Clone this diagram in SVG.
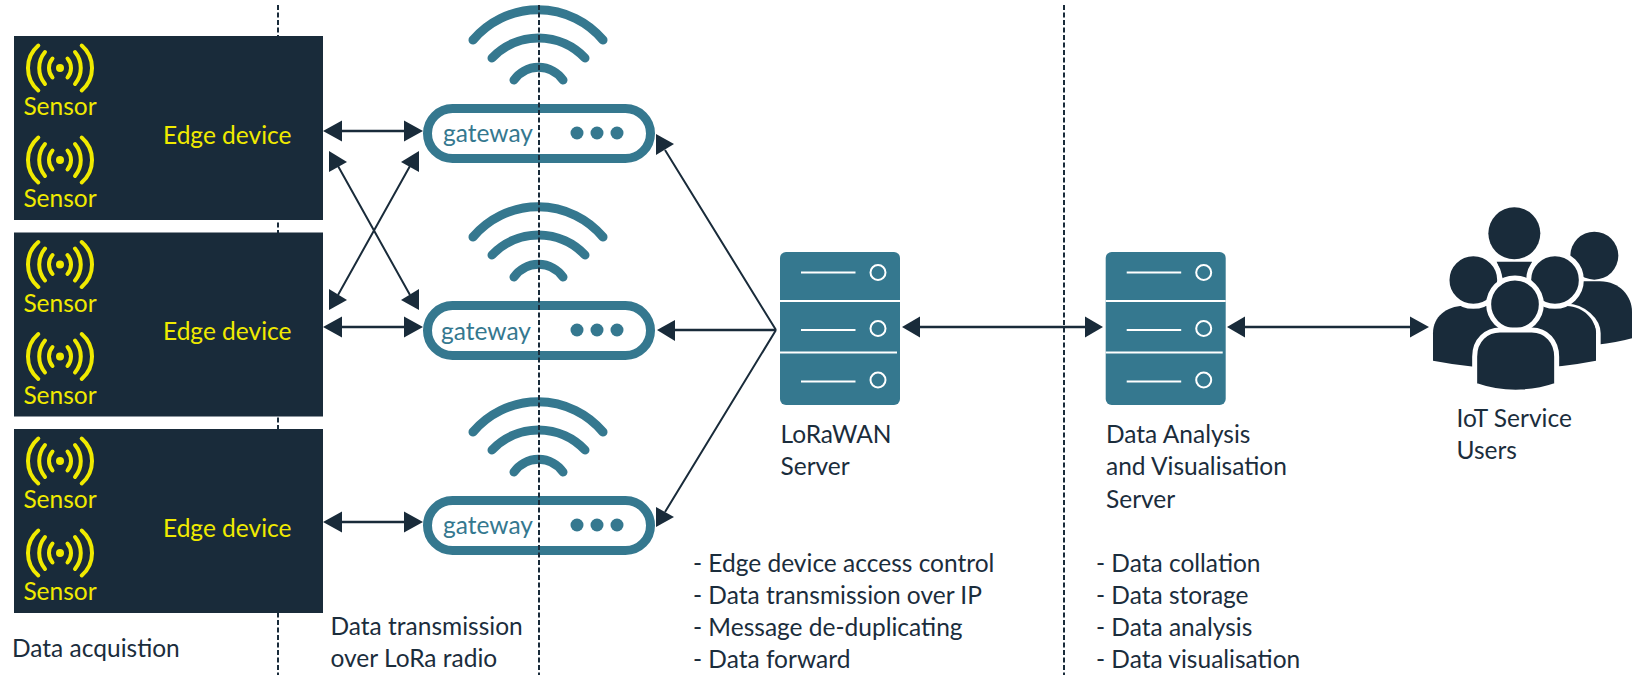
<svg xmlns="http://www.w3.org/2000/svg" xmlns:xlink="http://www.w3.org/1999/xlink" width="1632" height="675" viewBox="0 0 1632 675">
<style>
text{font-family:"Lato","Liberation Sans",sans-serif;font-size:24.5px;fill:#1b2d3c}
.y{fill:#f0ea00}
.g{fill:#35788f}
.box{fill:#192b3a}
.div{stroke:#192b3a;stroke-width:2;stroke-dasharray:5 2.5;fill:none}
.ln{stroke:#192b3a;stroke-width:2.5;fill:none}
.dg{stroke:#192b3a;stroke-width:2;fill:none}
.hd{fill:#192b3a}
.wf{stroke:#35788f;stroke-width:9;stroke-linecap:round;fill:none}
.gw{stroke:#35788f;stroke-width:9;fill:#fff}
.srv{fill:#35788f}
.wl{stroke:#fff;stroke-width:2;fill:none}
.sn{stroke:#f0ea00;stroke-width:4;stroke-linecap:round;fill:none}
.ps{fill:#192b3a;stroke:#fff;stroke-width:15}
.pn{fill:#192b3a}
</style>
<defs>
<g id="sensor">
<circle r="4" fill="#f0ea00"/>
<path class="sn" d="M-7.5-9.5A14.6 14.6 0 0 0-7.5 9.5M7.5-9.5A14.6 14.6 0 0 1 7.5 9.5M-15-16A25 25 0 0 0-15 16M15-16A25 25 0 0 1 15 16M-21.7-22.5A29.7 29.7 0 0 0-21.7 22.5M21.7-22.5A29.7 29.7 0 0 1 21.7 22.5"/>
</g>
<g id="edge">
<rect class="box" x="14" y="36" width="309" height="184"/>
<use xlink:href="#sensor" x="60" y="68"/>
<use xlink:href="#sensor" x="60" y="160"/>
<text class="y" x="60" y="115" text-anchor="middle">Sensor</text>
<text class="y" x="60" y="207" text-anchor="middle">Sensor</text>
<text class="y" x="163" y="143.500">Edge device</text>
</g>
<g id="gwbody">
<path class="wf" d="M473 40A85 85 0 0 1 603 40M492 58A64 64 0 0 1 585 58M514 80A30 30 0 0 1 563 80"/>
<rect class="gw" x="427.500" y="108.500" width="223" height="50" rx="25"/>
<circle class="g" cx="577" cy="133" r="6.500"/>
<circle class="g" cx="597" cy="133" r="6.500"/>
<circle class="g" cx="617" cy="133" r="6.500"/>
</g>
<g id="server">
<path class="srv" d="M6 0H114A6 6 0 0 1 120 6V147A6 6 0 0 1 114 153H6A6 6 0 0 1 0 147V6A6 6 0 0 1 6 0Z"/>
<path d="M0 49H120M0 100.500H117" stroke="#fff" stroke-width="2" fill="none"/>
<path class="wl" d="M21 20.500H75.500M21 78H75.500M21 129.500H75.500"/>
<circle class="wl" cx="98" cy="20.500" r="7.500"/>
<circle class="wl" cx="98" cy="76.500" r="7.500"/>
<circle class="wl" cx="98" cy="128" r="7.500"/>
</g>
</defs>

<g id="divider-left"><line class="div" x1="278" y1="5" x2="278" y2="675"/></g>

<g id="edge-1"><use xlink:href="#edge"/></g>
<g id="edge-2"><use xlink:href="#edge" y="196.500"/></g>
<g id="edge-3"><use xlink:href="#edge" y="393"/></g>

<g id="gateway-1"><use xlink:href="#gwbody"/><text class="g" x="443" y="141.500">gateway</text></g>
<g id="gateway-2"><use xlink:href="#gwbody" y="197"/><text class="g" x="441" y="339.500">gateway</text></g>
<g id="gateway-3"><use xlink:href="#gwbody" y="392"/><text class="g" x="443" y="533.500">gateway</text></g>

<g id="dividers">
<line class="div" x1="539" y1="5" x2="539" y2="675"/>
<line class="div" x1="1064" y1="5" x2="1064" y2="675"/>
</g>

<g id="connectors">
<path class="ln" d="M340 131H406M340 327H406M340 522H406M776 330H672M918 327H1087M1243 327H1413"/>
<path class="dg" d="M338 166L410 295M410 166L338 295M776 330L665 150M776 330L665 512"/>
<polygon class="hd" points="323,131 342,120.500 342,141.500"/>
<polygon class="hd" points="423,131 404,120.500 404,141.500"/>
<polygon class="hd" points="323,327 342,316.500 342,337.500"/>
<polygon class="hd" points="423,327 404,316.500 404,337.500"/>
<polygon class="hd" points="323,522 342,511.500 342,532.500"/>
<polygon class="hd" points="423,522 404,511.500 404,532.500"/>
<polygon class="hd" points="329,151 329,172 347,162"/>
<polygon class="hd" points="419,151 419,172 401,162"/>
<polygon class="hd" points="329,289 329,310 347,300"/>
<polygon class="hd" points="419,289 419,310 401,300"/>
<polygon class="hd" points="656,134 656,155 674,144"/>
<polygon class="hd" points="657,330 675,320 675,341"/>
<polygon class="hd" points="656,507 656,527 674,517"/>
<polygon class="hd" points="902,327 920,316.500 920,337.500"/>
<polygon class="hd" points="1103,327 1085,316.500 1085,337.500"/>
<polygon class="hd" points="1227,327 1245,316.500 1245,337.500"/>
<polygon class="hd" points="1429,327 1410,316.500 1410,337.500"/>
</g>

<g id="lorawan-server"><use xlink:href="#server" x="780" y="252"/>
<text x="780.500" y="443">LoRaWAN</text><text x="780.500" y="475">Server</text></g>
<g id="analysis-server"><use xlink:href="#server" x="1105.700" y="252"/>
<text x="1106" y="443">Data Analysis</text><text x="1106" y="475">and Visualisation</text><text x="1106" y="508">Server</text></g>

<g id="users">
<g transform="translate(1400 190) scale(.33333)">
<circle class="pn" cx="343" cy="130" r="78"/>
<polygon class="pn" points="290,215 396,215 380,270 310,270"/>
<circle class="pn" cx="583" cy="197" r="72"/>
<path class="pn" d="M500 274H600C660 274 696 320 696 365V445Q650 458 590 464H500Z"/>
<path class="ps" d="M99 512V430C99 380 140 348 190 348H500C550 348 595 390 595 430V512Q345 560 99 512Z" style="stroke-width:14"/>
<path class="pn" d="M99 512V430C99 380 140 348 190 348H500C550 348 588 390 588 430V512Q345 560 99 512Z"/>
<circle class="ps" cx="220" cy="270" r="79"/>
<circle class="ps" cx="465" cy="270" r="79"/>
<circle class="ps" cx="345" cy="343" r="79"/>
<path class="ps" d="M224 585V500C224 450 260 420 300 420H395C440 420 470 455 470 500V585Q347 628 224 585Z"/>
</g>
<text x="1456.500" y="427">IoT Service</text><text x="1456.500" y="459">Users</text>
</g>

<g id="labels">
<text x="12" y="656.500">Data acquistion</text>
<text x="330.500" y="635">Data transmission</text>
<text x="330.500" y="667">over LoRa radio</text>
<text x="693" y="572">- Edge device access control</text>
<text x="693" y="604">- Data transmission over IP</text>
<text x="693" y="636">- Message de-duplicating</text>
<text x="693" y="668">- Data forward</text>
<text x="1096" y="572">- Data collation</text>
<text x="1096" y="604">- Data storage</text>
<text x="1096" y="636">- Data analysis</text>
<text x="1096" y="668">- Data visualisation</text>
</g>
</svg>
